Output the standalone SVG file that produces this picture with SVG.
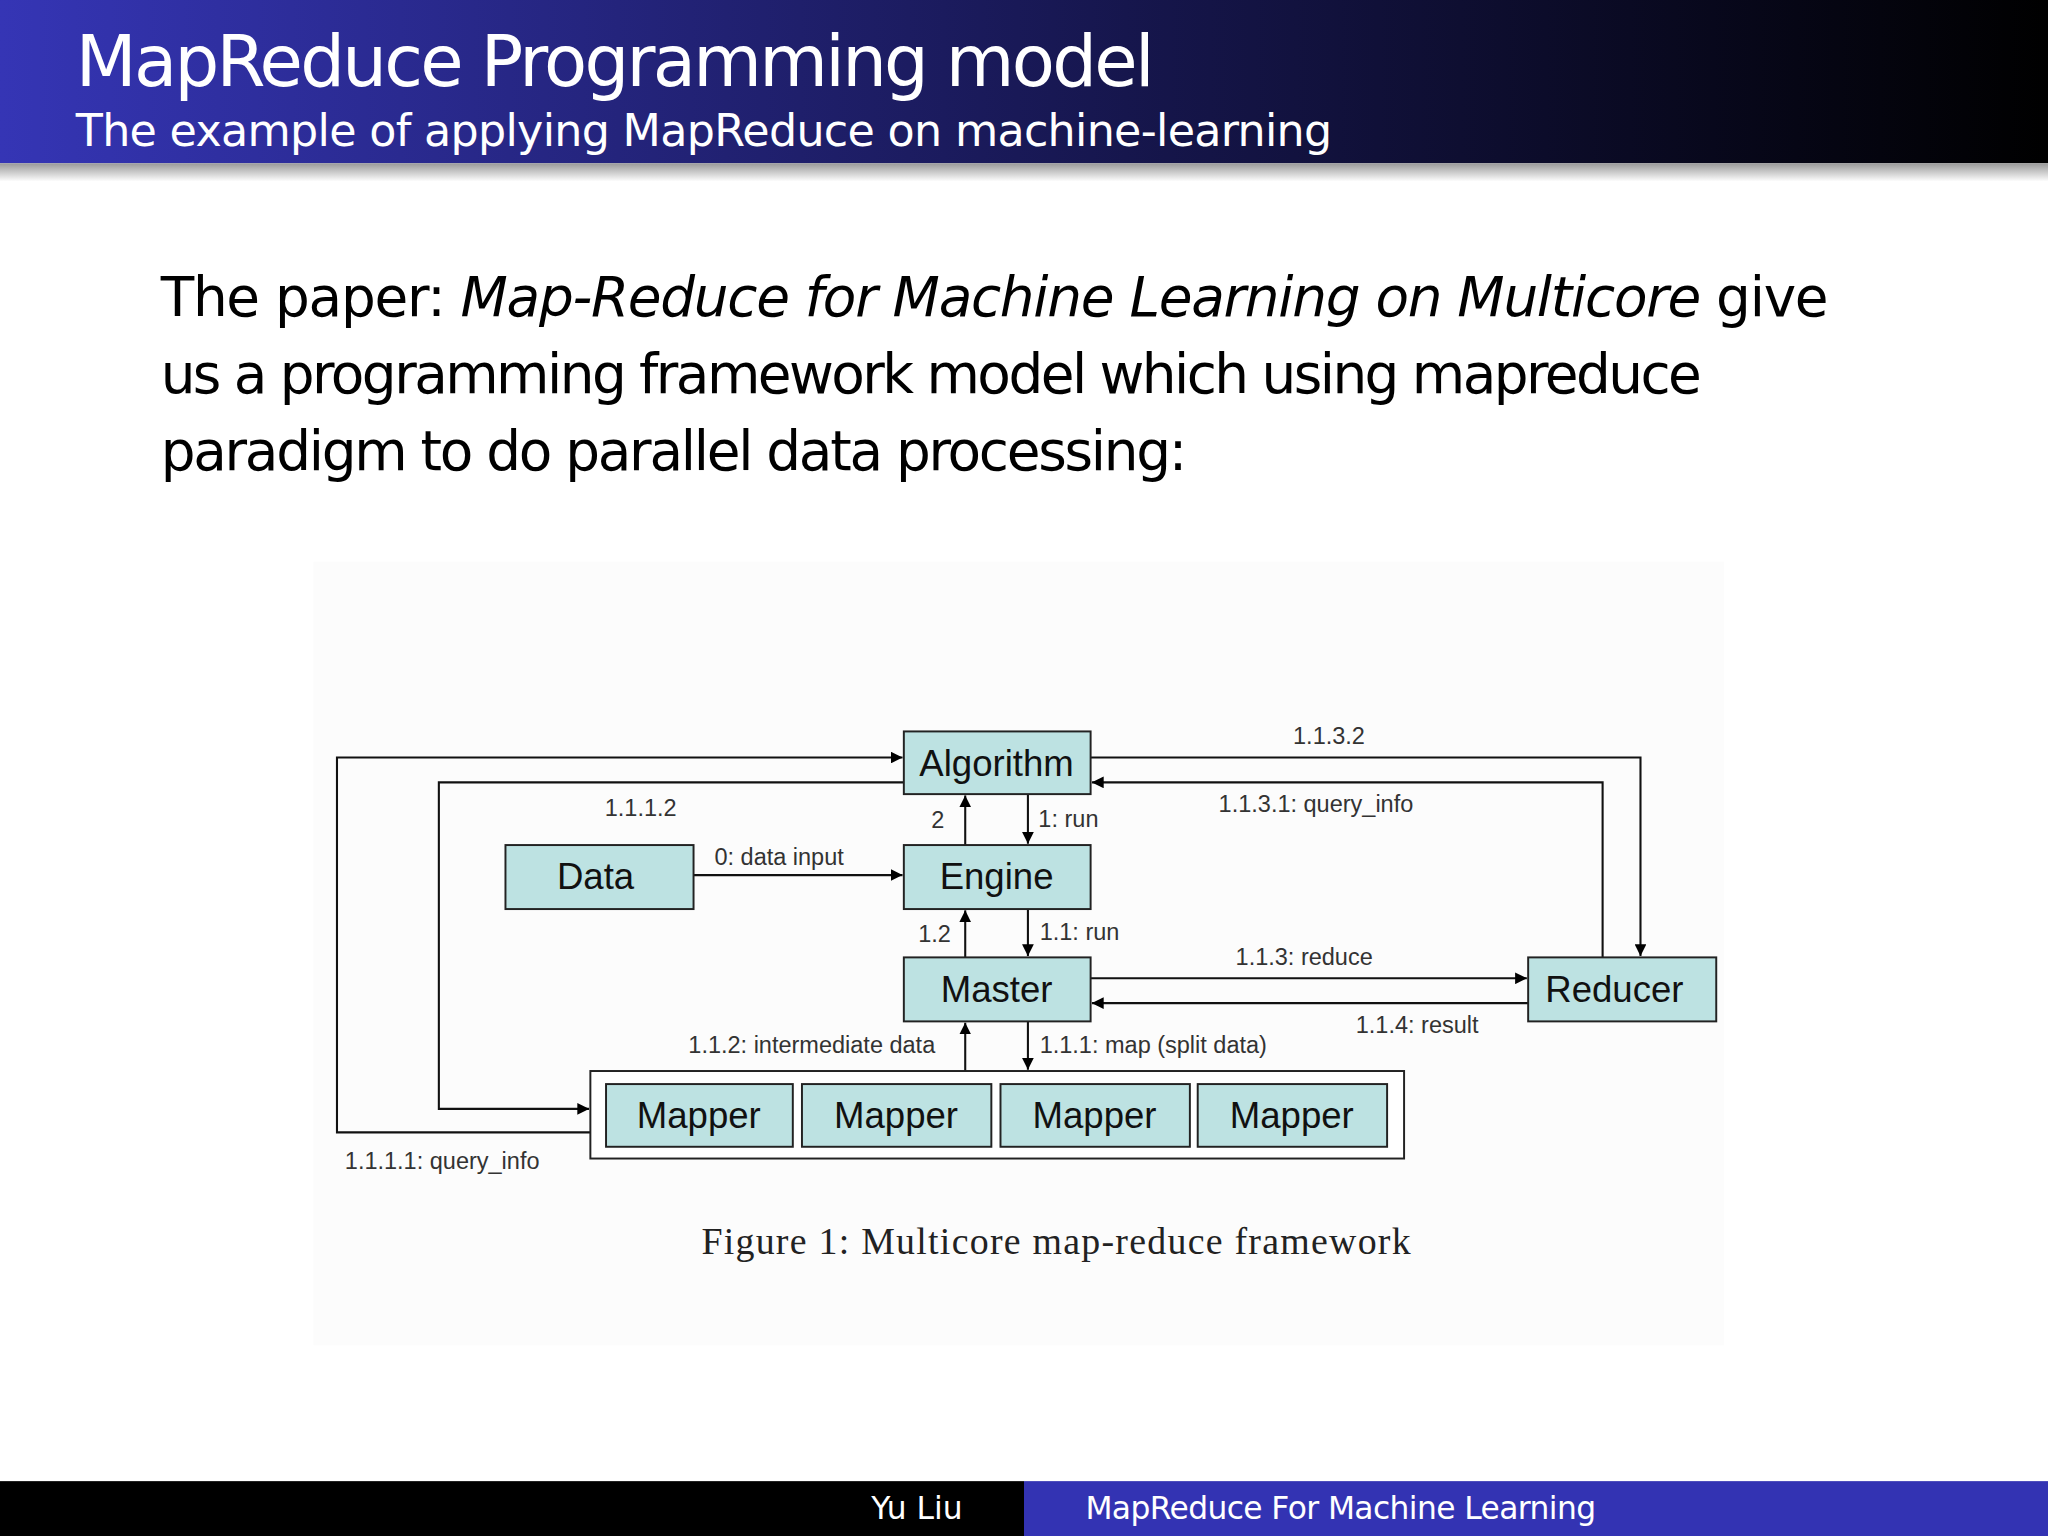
<svg xmlns="http://www.w3.org/2000/svg" width="2048" height="1536" viewBox="0 0 2048 1536">
<defs>
<linearGradient id="hg" x1="0" x2="1" y1="0" y2="0"><stop offset="0" stop-color="#3535b5"/><stop offset="0.55" stop-color="#16164d"/><stop offset="1" stop-color="#000"/></linearGradient>
<linearGradient id="sh" x1="0" x2="0" y1="0" y2="1"><stop offset="0" stop-color="#999"/><stop offset="1" stop-color="#fff"/></linearGradient>
<marker id="ah" viewBox="0 0 10 10" refX="10" refY="5" markerWidth="9" markerHeight="9" markerUnits="userSpaceOnUse" orient="auto"><path d="M0,0 L10,5 L0,10 z" fill="#000"/></marker>
<style>
.bx{fill:#bde2e2;stroke:#222;stroke-width:1.5}
.bt{font-family:"Liberation Sans",Arial,sans-serif;font-size:28px;fill:#111;text-anchor:middle}
.lb{font-family:"Liberation Sans",Arial,sans-serif;font-size:18px;fill:#333}
.cn{fill:none;stroke:#111;stroke-width:1.6}
.ar{marker-end:url(#ah)}
.sans{font-family:"DejaVu Sans","Open Sans",sans-serif}
</style>
</defs>
<rect width="2048" height="1536" fill="#fff"/>
<g transform="scale(1.30612)">
<rect x="0" y="0" width="1568" height="125" fill="url(#hg)"/>
<rect x="0" y="125" width="1568" height="14" fill="url(#sh)"/>
<text x="58" y="66" class="sans" font-size="54" fill="#fff" textLength="826">MapReduce Programming model</text>
<text x="58" y="112" class="sans" font-size="34" fill="#fff" textLength="962">The example of applying MapReduce on machine-learning</text>
<text class="sans" font-size="42" fill="#000"><tspan x="123" y="242" textLength="1277">The paper: <tspan font-style="italic">Map-Reduce for Machine Learning on Multicore</tspan> give</tspan><tspan x="123" y="301" textLength="1180">us a programming framework model which using mapreduce</tspan><tspan x="123" y="360" textLength="786">paradigm to do parallel data processing:</tspan></text>
<rect x="240" y="430" width="1080" height="600" fill="#fcfcfc"/>
<g id="connectors">
<polyline class="cn ar" points="452,867 258,867 258,580 691,580"/>
<polyline class="cn ar" points="692,599 336,599 336,849 451,849"/>
<polyline class="cn ar" points="835,580 1256,580 1256,732"/>
<polyline class="cn ar" points="1227,733 1227,599 836,599"/>
<line class="cn ar" x1="739" y1="647" x2="739" y2="609"/>
<line class="cn ar" x1="787" y1="608" x2="787" y2="646"/>
<line class="cn ar" x1="739" y1="733" x2="739" y2="697"/>
<line class="cn ar" x1="787" y1="696" x2="787" y2="732"/>
<line class="cn ar" x1="739" y1="820" x2="739" y2="783"/>
<line class="cn ar" x1="787" y1="782" x2="787" y2="819"/>
<line class="cn ar" x1="531" y1="670" x2="691" y2="670"/>
<line class="cn ar" x1="835" y1="749" x2="1169" y2="749"/>
<line class="cn ar" x1="1170" y1="768" x2="836" y2="768"/>
<text class="lb" x="990" y="570">1.1.3.2</text>
<text class="lb" x="933" y="622">1.1.3.1: query_info</text>
<text class="lb" x="463" y="625">1.1.1.2</text>
<text class="lb" x="713" y="634">2</text>
<text class="lb" x="795" y="633">1: run</text>
<text class="lb" x="547" y="662">0: data input</text>
<text class="lb" x="703" y="721">1.2</text>
<text class="lb" x="796" y="720">1.1: run</text>
<text class="lb" x="946" y="739">1.1.3: reduce</text>
<text class="lb" x="1038" y="791">1.1.4: result</text>
<text class="lb" x="527" y="806">1.1.2: intermediate data</text>
<text class="lb" x="796" y="806">1.1.1: map (split data)</text>
<text class="lb" x="264" y="895">1.1.1.1: query_info</text>
</g>
<g id="algorithm"><rect class="bx" x="692" y="560" width="143" height="48"/><text class="bt" x="763" y="594">Algorithm</text></g>
<g id="engine"><rect class="bx" x="692" y="647" width="143" height="49"/><text class="bt" x="763" y="681">Engine</text></g>
<g id="data"><rect class="bx" x="387" y="647" width="144" height="49"/><text class="bt" x="456" y="681">Data</text></g>
<g id="master"><rect class="bx" x="692" y="733" width="143" height="49"/><text class="bt" x="763" y="767">Master</text></g>
<g id="reducer"><rect class="bx" x="1170" y="733" width="144" height="49"/><text class="bt" x="1236" y="767">Reducer</text></g>
<g id="mappers"><rect x="452" y="820" width="623" height="67" fill="#fff" stroke="#222" stroke-width="1.5"/>
<rect class="bx" x="464" y="830" width="143" height="48"/><text class="bt" x="535" y="864">Mapper</text>
<rect class="bx" x="614" y="830" width="145" height="48"/><text class="bt" x="686" y="864">Mapper</text>
<rect class="bx" x="766" y="830" width="145" height="48"/><text class="bt" x="838" y="864">Mapper</text>
<rect class="bx" x="917" y="830" width="145" height="48"/><text class="bt" x="989" y="864">Mapper</text></g>
<text x="537" y="960" font-family="'Liberation Serif',serif" font-size="29" fill="#222" textLength="543">Figure 1: Multicore map-reduce framework</text>
<rect x="0" y="1134" width="784" height="42" fill="#000"/>
<rect x="784" y="1134" width="784" height="42" fill="#3333b3"/>
<text x="737" y="1163" class="sans" font-size="24" fill="#fff" text-anchor="end">Yu Liu</text>
<text x="831" y="1163" class="sans" font-size="24" fill="#fff" textLength="391">MapReduce For Machine Learning</text>
</g>
</svg>
